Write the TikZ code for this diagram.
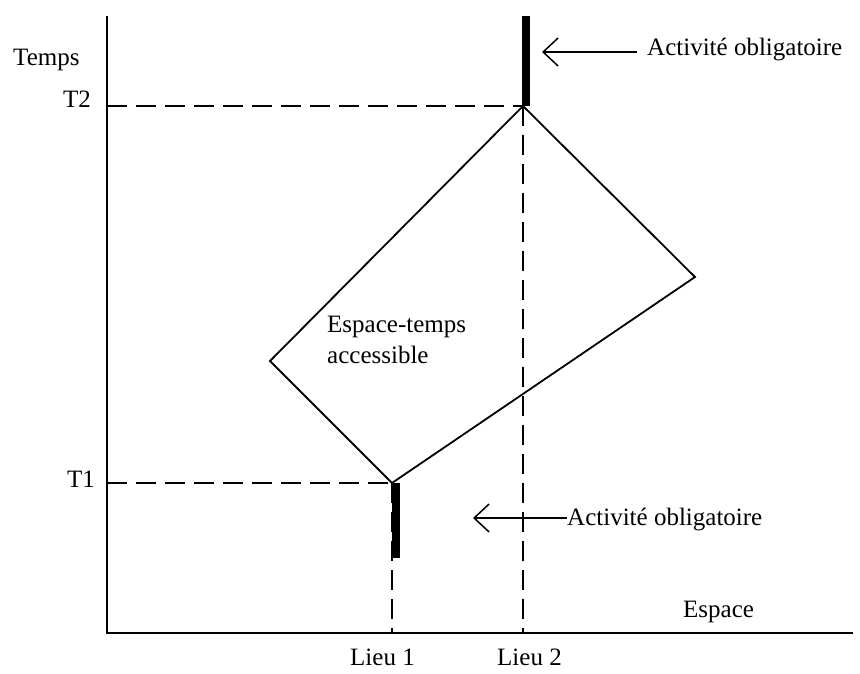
\documentclass[tikz,border=0pt]{standalone}
\usepackage{fontspec}
\setmainfont{Liberation Serif}
\usetikzlibrary{arrows.meta}
\begin{document}
\begin{tikzpicture}[x=1pt,y=-1pt,
  lbl/.style={inner sep=0pt,font=\fontsize{25}{30}\selectfont},
  axisline/.style={line width=2pt},
  guide/.style={line width=1.4pt,dash pattern=on 20pt off 9pt},
  region/.style={line width=1.8pt,line join=miter},
  bar/.style={line width=8pt},
  pointer/.style={line width=1.5pt,-{Straight Barb[length=15pt,width=28pt,line width=1.5pt]}}]
\useasboundingbox (0,0) rectangle (860,673);
% axes
\coordinate (ytop) at (107,16);
\coordinate (orig) at (107,633);
\coordinate (xend) at (853,633);
\draw[axisline] (ytop) -- (orig) -- (xend);
% key points
\coordinate (T2y) at (107,106);
\coordinate (T1y) at (107,483);
\coordinate (L1) at (392,633);
\coordinate (L2) at (523,633);
\coordinate (top) at (523,106);
\coordinate (right) at (695,277);
\coordinate (bot) at (392,483);
\coordinate (left) at (270,361);
% guides
\draw[guide] (T2y) -- (top);
\draw[guide] (T1y) -- (bot);
\draw[guide] (top) -- (L2);
\draw[guide] (bot) -- (L1);
% bars
\coordinate (b2top) at (526,16);
\coordinate (b2bot) at (526,106);
\coordinate (b1top) at (396,483);
\coordinate (b1bot) at (396,558);
\draw[bar] (b2top) -- (b2bot);
\draw[bar] (b1top) -- (b1bot);
% region
\draw[region] (top) -- (right) -- (bot) -- (left) -- cycle;
% labels
\node[lbl,anchor=base west] (temps) at (13,65) {Temps};
\node[lbl,anchor=base east] (t2) at (91,107) {T2};
\node[lbl,anchor=base east] (t1) at (95,487) {T1};
\node[lbl,anchor=base west] (lieu1) at (350,665) {Lieu 1};
\node[lbl,anchor=base west] (lieu2) at (497,665) {Lieu 2};
\node[lbl,anchor=base west] (espace) at (683,617) {Espace};
\node[lbl,anchor=base west,align=left] (et) at (327,332) {Espace-temps};
\node[lbl,anchor=base west] (acc) at (327,363) {accessible};
\node[lbl,anchor=base west] (act2) at (647,55) {Activité obligatoire};
\node[lbl,anchor=base west] (act1) at (567,525) {Activité obligatoire};
% pointers
\coordinate (p2s) at (637,52);
\coordinate (p2e) at (542,52);
\coordinate (p1s) at (567,518);
\coordinate (p1e) at (473,518);
\draw[pointer] (p2s) -- (p2e);
\draw[pointer] (p1s) -- (p1e);
\end{tikzpicture}
\end{document}
